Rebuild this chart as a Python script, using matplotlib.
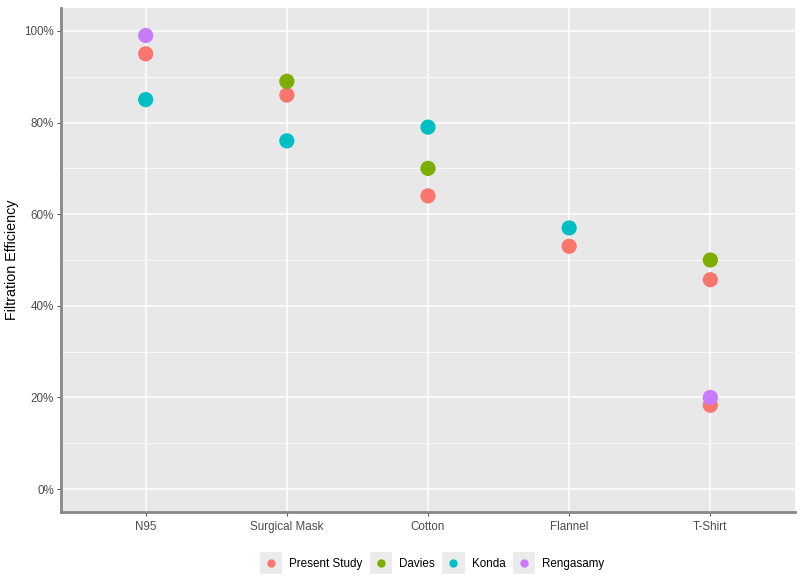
import matplotlib.pyplot as plt
from matplotlib.patches import Rectangle
from matplotlib.lines import Line2D
from matplotlib.ticker import FuncFormatter, MultipleLocator

materials = ['N95', 'Surgical Mask', 'Cotton', 'Flannel', 'T-Shirt']
studies = ['Present Study', 'Davies', 'Konda', 'Rengasamy']
colors = ['#F8766D', '#7CAE00', '#00BFC4', '#C77CFF']

present_mat = ['N95', 'Surgical Mask', 'Cotton', 'Flannel', 'T-Shirt', 'T-Shirt']
present_val = [95.0, 86.0, 64.0, 53.0, 45.7, 18.3]
davies_mat = ['Surgical Mask', 'Cotton', 'T-Shirt']
davies_val = [89.0, 70.0, 50.0]
konda_mat = ['N95', 'Surgical Mask', 'Cotton', 'Flannel']
konda_val = [85.0, 76.0, 79.0, 57.0]
renga_mat = ['N95', 'T-Shirt']
renga_val = [99.0, 20.0]

series = [(present_mat, present_val), (davies_mat, davies_val),
          (konda_mat, konda_val), (renga_mat, renga_val)]


class KeyHandler:
    # ggplot-style legend key: grey square with a centred dot
    def legend_artist(self, legend, orig_handle, fontsize, handlebox):
        x0, y0 = handlebox.xdescent, handlebox.ydescent
        w, h = handlebox.width, handlebox.height
        tr = handlebox.get_transform()
        rect = Rectangle((-x0, -y0 - 3), w, h + 6, facecolor='#EBEBEB',
                         edgecolor='none', transform=tr)
        dot = Line2D([w / 2 - x0], [h / 2 - y0], ls='none', marker='o', ms=6,
                     color=orig_handle.get_color(), mec='none', transform=tr)
        handlebox.add_artist(rect)
        handlebox.add_artist(dot)
        return rect


plt.rcParams['font.family'] = ['Liberation Sans', 'DejaVu Sans']

fig = plt.figure(figsize=(8, 5.76), dpi=100)
ax = fig.add_axes([61 / 800, 1 - 512 / 576, (795 - 61) / 800, (512 - 8) / 576])
ax.set_facecolor('#E8E8E8')

xpos = {m: i + 1 for i, m in enumerate(materials)}
handles = []
for (mats, vals), col in zip(series, colors):
    ax.scatter([xpos[m] for m in mats], [v / 100 for v in vals], s=120,
               color=col, edgecolors='none', zorder=3)
    handles.append(Line2D([], [], color=col))

ax.set_xlim(0.4, 5.6)
ax.set_ylim(-0.05, 1.05)
ax.set_xticks(range(1, len(materials) + 1))
ax.set_xticklabels(materials)
ax.yaxis.set_major_locator(MultipleLocator(0.2))
ax.yaxis.set_minor_locator(MultipleLocator(0.1))
ax.yaxis.set_major_formatter(FuncFormatter(lambda v, _: f'{v * 100:.0f}%'))
ax.grid(which='major', color='white', lw=1.1)
ax.grid(which='minor', axis='y', color='white', lw=0.55)
ax.set_axisbelow(True)

for s in ['top', 'right']:
    ax.spines[s].set_visible(False)
for s in ['left', 'bottom']:
    ax.spines[s].set_color('#888888')
    ax.spines[s].set_linewidth(2)
ax.tick_params(which='major', color='#555555', length=3, labelsize=8.4,
               labelcolor='#4D4D4D')
ax.tick_params(axis='y', pad=2)
ax.tick_params(which='minor', length=0)
ax.set_ylabel('Filtration Efficiency', fontsize=10.3)
ax.yaxis.set_label_coords(-0.057, 0.5)

fig.legend(handles, studies, handler_map={Line2D: KeyHandler()},
           loc='center', bbox_to_anchor=(432 / 800, 1 - 563 / 576), ncol=4,
           frameon=False, fontsize=8.4, handlelength=1.9, handleheight=1.5,
           handletextpad=0.6, columnspacing=0.65)

fig.savefig('out.png', dpi=100, facecolor='white')
